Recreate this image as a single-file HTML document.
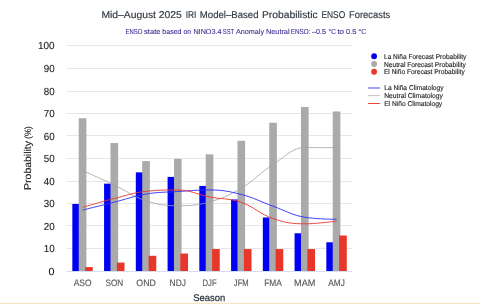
<!DOCTYPE html>
<html><head><meta charset="utf-8"><style>
html,body{margin:0;padding:0;background:#fff;width:480px;height:304px;overflow:hidden}
svg{display:block;will-change:transform}
text{font-family:"Liberation Sans",sans-serif;text-rendering:geometricPrecision}
</style></head><body>
<svg width="480" height="304" viewBox="0 0 480 304">
<rect width="480" height="304" fill="#fff"/>
<rect x="66.7" y="248" width="285.75" height="1" fill="#e6e6e6"/>
<rect x="66.7" y="225" width="285.75" height="1" fill="#e6e6e6"/>
<rect x="66.7" y="203" width="285.75" height="1" fill="#e6e6e6"/>
<rect x="66.7" y="181" width="285.75" height="1" fill="#e6e6e6"/>
<rect x="66.7" y="158" width="285.75" height="1" fill="#e6e6e6"/>
<rect x="66.7" y="135" width="285.75" height="1" fill="#e6e6e6"/>
<rect x="66.7" y="113" width="285.75" height="1" fill="#e6e6e6"/>
<rect x="66.7" y="91" width="285.75" height="1" fill="#e6e6e6"/>
<rect x="66.7" y="68" width="285.75" height="1" fill="#e6e6e6"/>
<rect x="66.7" y="45" width="285.75" height="1" fill="#e6e6e6"/>
<rect x="66.7" y="271" width="285.75" height="1" fill="#d5ddee"/>
<rect x="72.33" y="203.95" width="7.65" height="67.05" fill="#0000f5"/>
<rect x="78.73" y="118.26" width="7.65" height="152.74" fill="#aaaaaa"/>
<rect x="85.12" y="267.09" width="7.65" height="3.91" fill="#e8372a"/>
<rect x="104.08" y="183.66" width="7.65" height="87.34" fill="#0000f5"/>
<rect x="110.48" y="143.06" width="7.65" height="127.94" fill="#aaaaaa"/>
<rect x="116.88" y="262.58" width="7.65" height="8.42" fill="#e8372a"/>
<rect x="135.82" y="172.38" width="7.65" height="98.62" fill="#0000f5"/>
<rect x="142.22" y="161.10" width="7.65" height="109.90" fill="#aaaaaa"/>
<rect x="148.62" y="255.81" width="7.65" height="15.19" fill="#e8372a"/>
<rect x="167.57" y="176.89" width="7.65" height="94.11" fill="#0000f5"/>
<rect x="173.97" y="158.85" width="7.65" height="112.15" fill="#aaaaaa"/>
<rect x="180.38" y="253.56" width="7.65" height="17.44" fill="#e8372a"/>
<rect x="199.32" y="185.91" width="7.65" height="85.09" fill="#0000f5"/>
<rect x="205.72" y="154.34" width="7.65" height="116.66" fill="#aaaaaa"/>
<rect x="212.12" y="249.05" width="7.65" height="21.95" fill="#e8372a"/>
<rect x="231.07" y="199.44" width="7.65" height="71.56" fill="#0000f5"/>
<rect x="237.47" y="140.81" width="7.65" height="130.19" fill="#aaaaaa"/>
<rect x="243.88" y="249.05" width="7.65" height="21.95" fill="#e8372a"/>
<rect x="262.82" y="217.48" width="7.65" height="53.52" fill="#0000f5"/>
<rect x="269.22" y="122.77" width="7.65" height="148.23" fill="#aaaaaa"/>
<rect x="275.62" y="249.05" width="7.65" height="21.95" fill="#e8372a"/>
<rect x="294.57" y="233.26" width="7.65" height="37.74" fill="#0000f5"/>
<rect x="300.97" y="106.99" width="7.65" height="164.01" fill="#aaaaaa"/>
<rect x="307.38" y="249.05" width="7.65" height="21.95" fill="#e8372a"/>
<rect x="326.32" y="242.28" width="7.65" height="28.72" fill="#0000f5"/>
<rect x="332.72" y="111.50" width="7.65" height="159.50" fill="#aaaaaa"/>
<rect x="339.12" y="235.52" width="7.65" height="35.48" fill="#e8372a"/>
<path d="M 82.58 170.58 C 82.58 170.58 101.62 178.96 114.33 185.01 C 127.03 191.05 133.38 196.64 146.07 200.79 C 158.78 204.94 165.12 205.75 177.82 205.75 C 190.52 205.75 196.87 205.44 209.57 201.92 C 222.28 198.40 228.62 195.65 241.32 188.16 C 254.03 180.68 260.38 172.61 273.07 164.49 C 285.77 156.37 292.12 147.58 304.82 147.58 C 317.52 147.58 336.57 147.58 336.57 147.58" fill="none" stroke="#a2a2a2" stroke-width="0.8"/>
<path d="M 82.58 210.04 C 82.58 210.04 101.62 205.35 114.33 202.15 C 127.03 198.94 133.38 196.15 146.07 194.03 C 158.78 191.91 165.12 192.36 177.82 191.55 C 190.52 190.74 196.87 189.97 209.57 189.97 C 222.28 189.97 228.62 191.23 241.32 194.48 C 254.03 197.73 260.38 201.65 273.07 206.21 C 285.77 210.76 292.12 215.22 304.82 217.25 C 317.52 219.28 336.57 219.28 336.57 219.28" fill="none" stroke="#2a2aff" stroke-width="0.9"/>
<path d="M 82.58 207.33 C 82.58 207.33 101.62 201.74 114.33 198.54 C 127.03 195.34 133.38 192.67 146.07 191.32 C 158.78 189.97 165.12 189.97 177.82 189.97 C 190.52 189.97 196.87 194.48 209.57 196.96 C 222.28 199.44 228.62 198.04 241.32 202.37 C 254.03 206.70 260.38 214.32 273.07 218.61 C 285.77 222.89 292.12 223.79 304.82 223.79 C 317.52 223.79 336.57 221.09 336.57 221.09" fill="none" stroke="#e8372a" stroke-width="0.9"/>
<text x="54.6" y="274.90" text-anchor="end" font-size="10.2" fill="#1a1a1a" stroke="#1a1a1a" stroke-width="0.1" textLength="6.0" lengthAdjust="spacingAndGlyphs">0</text>
<text x="54.6" y="252.35" text-anchor="end" font-size="10.2" fill="#1a1a1a" stroke="#1a1a1a" stroke-width="0.1" textLength="10.9" lengthAdjust="spacingAndGlyphs">10</text>
<text x="54.6" y="229.80" text-anchor="end" font-size="10.2" fill="#1a1a1a" stroke="#1a1a1a" stroke-width="0.1" textLength="10.9" lengthAdjust="spacingAndGlyphs">20</text>
<text x="54.6" y="207.25" text-anchor="end" font-size="10.2" fill="#1a1a1a" stroke="#1a1a1a" stroke-width="0.1" textLength="10.9" lengthAdjust="spacingAndGlyphs">30</text>
<text x="54.6" y="184.70" text-anchor="end" font-size="10.2" fill="#1a1a1a" stroke="#1a1a1a" stroke-width="0.1" textLength="10.9" lengthAdjust="spacingAndGlyphs">40</text>
<text x="54.6" y="162.15" text-anchor="end" font-size="10.2" fill="#1a1a1a" stroke="#1a1a1a" stroke-width="0.1" textLength="10.9" lengthAdjust="spacingAndGlyphs">50</text>
<text x="54.6" y="139.60" text-anchor="end" font-size="10.2" fill="#1a1a1a" stroke="#1a1a1a" stroke-width="0.1" textLength="10.9" lengthAdjust="spacingAndGlyphs">60</text>
<text x="54.6" y="117.05" text-anchor="end" font-size="10.2" fill="#1a1a1a" stroke="#1a1a1a" stroke-width="0.1" textLength="10.9" lengthAdjust="spacingAndGlyphs">70</text>
<text x="54.6" y="94.50" text-anchor="end" font-size="10.2" fill="#1a1a1a" stroke="#1a1a1a" stroke-width="0.1" textLength="10.9" lengthAdjust="spacingAndGlyphs">80</text>
<text x="54.6" y="71.95" text-anchor="end" font-size="10.2" fill="#1a1a1a" stroke="#1a1a1a" stroke-width="0.1" textLength="10.9" lengthAdjust="spacingAndGlyphs">90</text>
<text x="54.6" y="49.40" text-anchor="end" font-size="10.2" fill="#1a1a1a" stroke="#1a1a1a" stroke-width="0.1" textLength="16.6" lengthAdjust="spacingAndGlyphs">100</text>
<text x="82.58" y="285.9" text-anchor="middle" font-size="9.4" fill="#555" stroke="#555" stroke-width="0.12" textLength="17.9" lengthAdjust="spacingAndGlyphs">ASO</text>
<text x="114.33" y="285.9" text-anchor="middle" font-size="9.4" fill="#555" stroke="#555" stroke-width="0.12" textLength="17.7" lengthAdjust="spacingAndGlyphs">SON</text>
<text x="146.07" y="285.9" text-anchor="middle" font-size="9.4" fill="#555" stroke="#555" stroke-width="0.12" textLength="19.5" lengthAdjust="spacingAndGlyphs">OND</text>
<text x="177.82" y="285.9" text-anchor="middle" font-size="9.4" fill="#555" stroke="#555" stroke-width="0.12" textLength="16.4" lengthAdjust="spacingAndGlyphs">NDJ</text>
<text x="209.57" y="285.9" text-anchor="middle" font-size="9.4" fill="#555" stroke="#555" stroke-width="0.12" textLength="14.1" lengthAdjust="spacingAndGlyphs">DJF</text>
<text x="241.32" y="285.9" text-anchor="middle" font-size="9.4" fill="#555" stroke="#555" stroke-width="0.12" textLength="14.9" lengthAdjust="spacingAndGlyphs">JFM</text>
<text x="273.07" y="285.9" text-anchor="middle" font-size="9.4" fill="#555" stroke="#555" stroke-width="0.12" textLength="17.7" lengthAdjust="spacingAndGlyphs">FMA</text>
<text x="304.82" y="285.9" text-anchor="middle" font-size="9.4" fill="#555" stroke="#555" stroke-width="0.12" textLength="21.4" lengthAdjust="spacingAndGlyphs">MAM</text>
<text x="336.57" y="285.9" text-anchor="middle" font-size="9.4" fill="#555" stroke="#555" stroke-width="0.12" textLength="16.6" lengthAdjust="spacingAndGlyphs">AMJ</text>
<text x="101.40" y="18.4" font-size="9.9" fill="#2e3740" stroke="#2e3740" stroke-width="0.15" textLength="54.60" lengthAdjust="spacingAndGlyphs">Mid–August</text>
<text x="158.70" y="18.4" font-size="9.9" fill="#2e3740" stroke="#2e3740" stroke-width="0.15" textLength="23.15" lengthAdjust="spacingAndGlyphs">2025</text>
<text x="185.65" y="18.4" font-size="9.9" fill="#2e3740" stroke="#2e3740" stroke-width="0.15" textLength="10.75" lengthAdjust="spacingAndGlyphs">IRI</text>
<text x="199.80" y="18.4" font-size="9.9" fill="#2e3740" stroke="#2e3740" stroke-width="0.15" textLength="58.70" lengthAdjust="spacingAndGlyphs">Model–Based</text>
<text x="261.90" y="18.4" font-size="9.9" fill="#2e3740" stroke="#2e3740" stroke-width="0.15" textLength="55.80" lengthAdjust="spacingAndGlyphs">Probabilistic</text>
<text x="321.50" y="18.4" font-size="9.9" fill="#2e3740" stroke="#2e3740" stroke-width="0.15" textLength="23.70" lengthAdjust="spacingAndGlyphs">ENSO</text>
<text x="349.00" y="18.4" font-size="9.9" fill="#2e3740" stroke="#2e3740" stroke-width="0.15" textLength="41.20" lengthAdjust="spacingAndGlyphs">Forecasts</text>
<text x="125.45" y="34.1" font-size="7.2" fill="#3d3598" stroke="#3d3598" stroke-width="0.12" textLength="16.95" lengthAdjust="spacingAndGlyphs">ENSO</text>
<text x="144.10" y="34.1" font-size="7.2" fill="#3d3598" stroke="#3d3598" stroke-width="0.12" textLength="16.40" lengthAdjust="spacingAndGlyphs">state</text>
<text x="162.35" y="34.1" font-size="7.2" fill="#3d3598" stroke="#3d3598" stroke-width="0.12" textLength="19.15" lengthAdjust="spacingAndGlyphs">based</text>
<text x="183.60" y="34.1" font-size="7.2" fill="#3d3598" stroke="#3d3598" stroke-width="0.12" textLength="7.50" lengthAdjust="spacingAndGlyphs">on</text>
<text x="193.40" y="34.1" font-size="7.2" fill="#3d3598" stroke="#3d3598" stroke-width="0.12" textLength="28.20" lengthAdjust="spacingAndGlyphs">NINO3.4</text>
<text x="222.80" y="34.1" font-size="7.2" fill="#3d3598" stroke="#3d3598" stroke-width="0.12" textLength="11.30" lengthAdjust="spacingAndGlyphs">SST</text>
<text x="236.00" y="34.1" font-size="7.2" fill="#3d3598" stroke="#3d3598" stroke-width="0.12" textLength="28.05" lengthAdjust="spacingAndGlyphs">Anomaly</text>
<text x="265.90" y="34.1" font-size="7.2" fill="#3d3598" stroke="#3d3598" stroke-width="0.12" textLength="23.70" lengthAdjust="spacingAndGlyphs">Neutral</text>
<text x="290.80" y="34.1" font-size="7.2" fill="#3d3598" stroke="#3d3598" stroke-width="0.12" textLength="19.60" lengthAdjust="spacingAndGlyphs">ENSO:</text>
<text x="312.10" y="34.1" font-size="7.2" fill="#3d3598" stroke="#3d3598" stroke-width="0.12" textLength="13.90" lengthAdjust="spacingAndGlyphs">–0.5</text>
<text x="328.50" y="34.1" font-size="7.2" fill="#3d3598" stroke="#3d3598" stroke-width="0.12" textLength="7.40" lengthAdjust="spacingAndGlyphs">°C</text>
<text x="337.40" y="34.1" font-size="7.2" fill="#3d3598" stroke="#3d3598" stroke-width="0.12" textLength="6.70" lengthAdjust="spacingAndGlyphs">to</text>
<text x="346.10" y="34.1" font-size="7.2" fill="#3d3598" stroke="#3d3598" stroke-width="0.12" textLength="10.40" lengthAdjust="spacingAndGlyphs">0.5</text>
<text x="358.50" y="34.1" font-size="7.2" fill="#3d3598" stroke="#3d3598" stroke-width="0.12" textLength="7.60" lengthAdjust="spacingAndGlyphs">°C</text>
<text x="209.25" y="300.6" text-anchor="middle" font-size="9.7" fill="#2e3740" stroke="#2e3740" stroke-width="0.25" textLength="32" lengthAdjust="spacingAndGlyphs">Season</text>
<text transform="translate(31.1,189.9) rotate(-90)" font-size="9.9" fill="#1a1a1a" stroke="#1a1a1a" stroke-width="0.12" textLength="48.9" lengthAdjust="spacingAndGlyphs">Probability</text>
<text transform="translate(30.9,138.7) rotate(-90)" font-size="9.2" fill="#1a1a1a" stroke="#1a1a1a" stroke-width="0.12" textLength="12.4" lengthAdjust="spacingAndGlyphs">(%)</text>
<circle cx="374.1" cy="56.25" r="2.9" fill="#0000f5"/>
<text x="384.0" y="58.75" font-size="7" fill="#262626" stroke="#262626" stroke-width="0.14" textLength="82.3" lengthAdjust="spacingAndGlyphs">La Niña Forecast Probability</text>
<circle cx="374.1" cy="64" r="2.9" fill="#aaaaaa"/>
<text x="384.0" y="66.50" font-size="7" fill="#262626" stroke="#262626" stroke-width="0.14" textLength="81.8" lengthAdjust="spacingAndGlyphs">Neutral Forecast Probability</text>
<circle cx="374.1" cy="71.75" r="2.9" fill="#e8372a"/>
<text x="384.0" y="74.25" font-size="7" fill="#262626" stroke="#262626" stroke-width="0.14" textLength="80.8" lengthAdjust="spacingAndGlyphs">El Niño Forecast Probability</text>
<line x1="368" x2="380" y1="88" y2="88" stroke="#7878ff" stroke-width="1.4"/>
<text x="384.2" y="90.40" font-size="7" fill="#262626" stroke="#262626" stroke-width="0.14" textLength="59.4" lengthAdjust="spacingAndGlyphs">La Niña Climatology</text>
<line x1="368" x2="380" y1="95.6" y2="95.6" stroke="#c4c4c4" stroke-width="1"/>
<text x="384.2" y="98.00" font-size="7" fill="#262626" stroke="#262626" stroke-width="0.14" textLength="58.7" lengthAdjust="spacingAndGlyphs">Neutral Climatology</text>
<line x1="368" x2="380" y1="103.5" y2="103.5" stroke="#e8473a" stroke-width="1"/>
<text x="384.2" y="105.90" font-size="7" fill="#262626" stroke="#262626" stroke-width="0.14" textLength="58" lengthAdjust="spacingAndGlyphs">El Niño Climatology</text>
<rect x="0" y="302" width="480" height="1" fill="#fefbf5"/><rect x="0" y="303" width="480" height="1" fill="#f4e3c4"/>
</svg></body></html>
